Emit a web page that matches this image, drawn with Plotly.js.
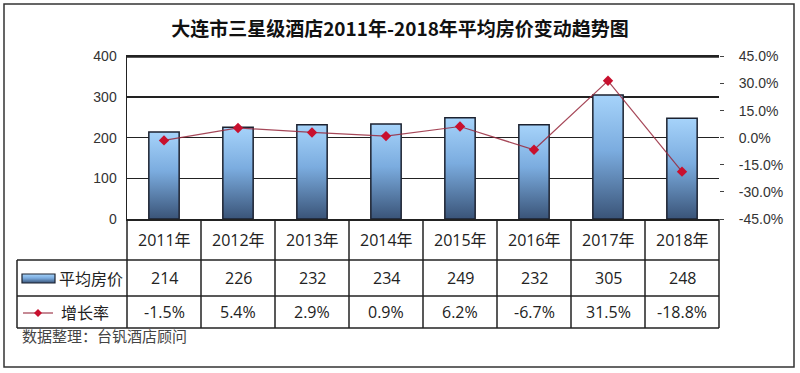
<!DOCTYPE html>
<html>
<head>
<meta charset="utf-8">
<script src="https://cdn.plot.ly/plotly-3.0.1.min.js"></script>
<style>
html,body{margin:0;padding:0;background:#fff;}
#chart{width:800px;height:373px;}
</style>
</head>
<body>
<div id="chart"></div>
<script>
// ---- data ----
const years = ['2011年','2012年','2013年','2014年','2015年','2016年','2017年','2018年'];
const prices = [214, 226, 232, 234, 249, 232, 305, 248];
const growth = [-1.5, 5.4, 2.9, 0.9, 6.2, -6.7, 31.5, -18.8];
const leftTicks = [0, 100, 200, 300, 400];
const rightTicks = [-45, -30, -15, 0, 15, 30, 45];
const seriesNames = ['平均房价', '增长率'];
const titleText = '大连市三星级酒店2011年-2018年平均房价变动趋势图';
const sourceText = '数据整理：台钒酒店顾问';

// ---- geometry helpers (plot area 127..719 x 56..219) ----
const L = 127, R = 719, T = 56, B = 219;
const W = R - L, H = B - T;
const px = x => (x - L) / W;
const py = y => (B - y) / H;

const CJK = '"Noto Sans CJK SC", sans-serif';
const TBL = '"Open Sans", "Noto Sans CJK SC", sans-serif';
const LAT = '"Liberation Sans", Arial, sans-serif';
const lineC = '#222';

const traces = [
  {
    type: 'bar', x: years, y: prices, name: seriesNames[0],
    width: 0.41,
    marker: {color: '#7aa9dc', line: {color: '#1c2230', width: 1.5}},
    hoverinfo: 'skip'
  },
  {
    type: 'scatter', mode: 'lines+markers', x: years, y: growth, yaxis: 'y2', name: seriesNames[1],
    line: {color: 'rgba(150,40,60,0.85)', width: 1.2},
    marker: {symbol: 'diamond', size: 8, color: '#c8102e'},
    hoverinfo: 'skip'
  }
];

const shapes = [];
const annotations = [];
const hline = (y, x0, x1) => shapes.push({type: 'line', xref: 'paper', yref: 'paper',
  x0: px(x0), x1: px(x1), y0: py(y), y1: py(y), line: {color: lineC, width: 1.5}});
const vline = (x, y0, y1) => shapes.push({type: 'line', xref: 'paper', yref: 'paper',
  x0: px(x), x1: px(x), y0: py(y0), y1: py(y1), line: {color: lineC, width: 1.5}});

// top frame of the plot area, in data coordinates of the left axis
shapes.push({type: 'line', xref: 'paper', yref: 'y', x0: 0, x1: 1, y0: 399, y1: 399,
  line: {color: lineC, width: 2}});
// table grid
hline(260, 17, R); hline(296, 17, R); hline(328, 17, R);
const colW = W / years.length;
for (let k = 0; k <= years.length; k++) vline(L + k * colW, 219, 328);
vline(17, 260, 328);

// outer border
shapes.push({type: 'rect', xref: 'paper', yref: 'paper',
  x0: px(4), x1: px(794), y0: py(367), y1: py(4), line: {color: '#333', width: 1.5}, fillcolor: 'rgba(0,0,0,0)'});

// legend symbols
shapes.push({type: 'rect', xref: 'paper', yref: 'paper',
  x0: px(22), x1: px(55), y0: py(283), y1: py(274), line: {color: '#1c2230', width: 1.2}, fillcolor: 'rgb(1,2,3)'});
shapes.push({type: 'line', xref: 'paper', yref: 'paper',
  x0: px(23), x1: px(53), y0: py(313), y1: py(313), line: {color: 'rgba(150,40,60,0.9)', width: 1.2}});
const dx = 4 / W, dy = 4 / H, cx = px(38), cy = py(313);
shapes.push({type: 'path', xref: 'paper', yref: 'paper',
  path: `M ${cx},${cy + dy} L ${cx + dx},${cy} L ${cx},${cy - dy} L ${cx - dx},${cy} Z`,
  fillcolor: '#c8102e', line: {width: 0}});

// table text
const rowCenters = [(219 + 260) / 2, (260 + 296) / 2, (296 + 328) / 2];
const cellFont = {family: TBL, size: 16, color: '#222'};
years.forEach((yr, i) => {
  annotations.push({xref: 'x', yref: 'paper', x: yr, y: py(rowCenters[0]), text: yr,
    showarrow: false, font: cellFont, xanchor: 'center', yanchor: 'middle'});
  annotations.push({xref: 'x', yref: 'paper', x: yr, y: py(rowCenters[1]), text: String(prices[i]),
    showarrow: false, font: cellFont, xanchor: 'center', yanchor: 'middle'});
  annotations.push({xref: 'x', yref: 'paper', x: yr, y: py(rowCenters[2]), text: growth[i].toFixed(1) + '%',
    showarrow: false, font: cellFont, xanchor: 'center', yanchor: 'middle'});
});
annotations.push({xref: 'paper', yref: 'paper', x: px(57), y: py(rowCenters[1]), text: seriesNames[0],
  showarrow: false, font: {family: CJK, size: 16, color: '#222'}, xanchor: 'left', yanchor: 'middle'});
annotations.push({xref: 'paper', yref: 'paper', x: px(59), y: py(rowCenters[2]), text: seriesNames[1],
  showarrow: false, font: {family: CJK, size: 16, color: '#222'}, xanchor: 'left', yanchor: 'middle'});
annotations.push({xref: 'paper', yref: 'paper', x: px(20), y: py(335), text: sourceText,
  showarrow: false, font: {family: CJK, size: 15, color: '#444'}, xanchor: 'left', yanchor: 'middle'});

const layout = {
  width: 800, height: 373,
  margin: {l: L, r: 800 - R, t: T, b: 373 - B, pad: 0},
  paper_bgcolor: '#fff', plot_bgcolor: '#fff',
  showlegend: false,
  title: {text: titleText, x: 0.5, xref: 'container', xanchor: 'center',
    y: 1 - 29 / 373, yref: 'container', yanchor: 'middle',
    font: {family: CJK, size: 19, color: '#111', weight: 'bold'}},
  xaxis: {type: 'category', showticklabels: false, ticks: '', showgrid: false,
    showline: true, mirror: true, linecolor: lineC, linewidth: 1.5, zeroline: false, fixedrange: true},
  yaxis: {range: [0, 401], tickvals: leftTicks, ticks: '', showgrid: true, gridcolor: lineC, gridwidth: 1.5,
    showline: true, linecolor: lineC, linewidth: 1.5, zeroline: false, ticklabelstandoff: 6,
    tickfont: {family: LAT, size: 14, color: '#333'}, fixedrange: true},
  yaxis2: {overlaying: 'y', side: 'right', range: [-45, 45.225], tickvals: rightTicks,
    ticktext: rightTicks.map(v => v.toFixed(1) + '%'),
    ticks: 'outside', ticklen: 4, tickcolor: '#444', tickwidth: 1,
    showgrid: false, zeroline: false, showline: false, ticklabelstandoff: 12,
    tickfont: {family: LAT, size: 14, color: '#333'}, fixedrange: true},
  shapes: shapes,
  annotations: annotations
};

const gd = document.getElementById('chart');
Plotly.newPlot(gd, traces, layout, {staticPlot: true, displayModeBar: false}).then(() => {
  const ns = 'http://www.w3.org/2000/svg';
  const svg = gd.querySelector('.main-svg');
  let defs = svg.querySelector('defs');
  if (!defs) { defs = document.createElementNS(ns, 'defs'); svg.insertBefore(defs, svg.firstChild); }
  const grad = document.createElementNS(ns, 'linearGradient');
  grad.setAttribute('id', 'barGrad');
  grad.setAttribute('x1', '0'); grad.setAttribute('y1', '0');
  grad.setAttribute('x2', '0'); grad.setAttribute('y2', '1');
  [['0', '#a6d3fa'], ['0.45', '#7bacdf'], ['1', '#3a5478']].forEach(([o, c]) => {
    const s = document.createElementNS(ns, 'stop');
    s.setAttribute('offset', o); s.setAttribute('stop-color', c);
    grad.appendChild(s);
  });
  defs.appendChild(grad);
  gd.querySelectorAll('.barlayer .point path').forEach(p => { p.style.fill = 'url(#barGrad)'; });
  gd.querySelectorAll('.shapelayer path').forEach(p => {
    if ((p.style.fill || '').replace(/\s/g, '') === 'rgb(1,2,3)') p.style.fill = 'url(#barGrad)';
  });
});
</script>
</body>
</html>
